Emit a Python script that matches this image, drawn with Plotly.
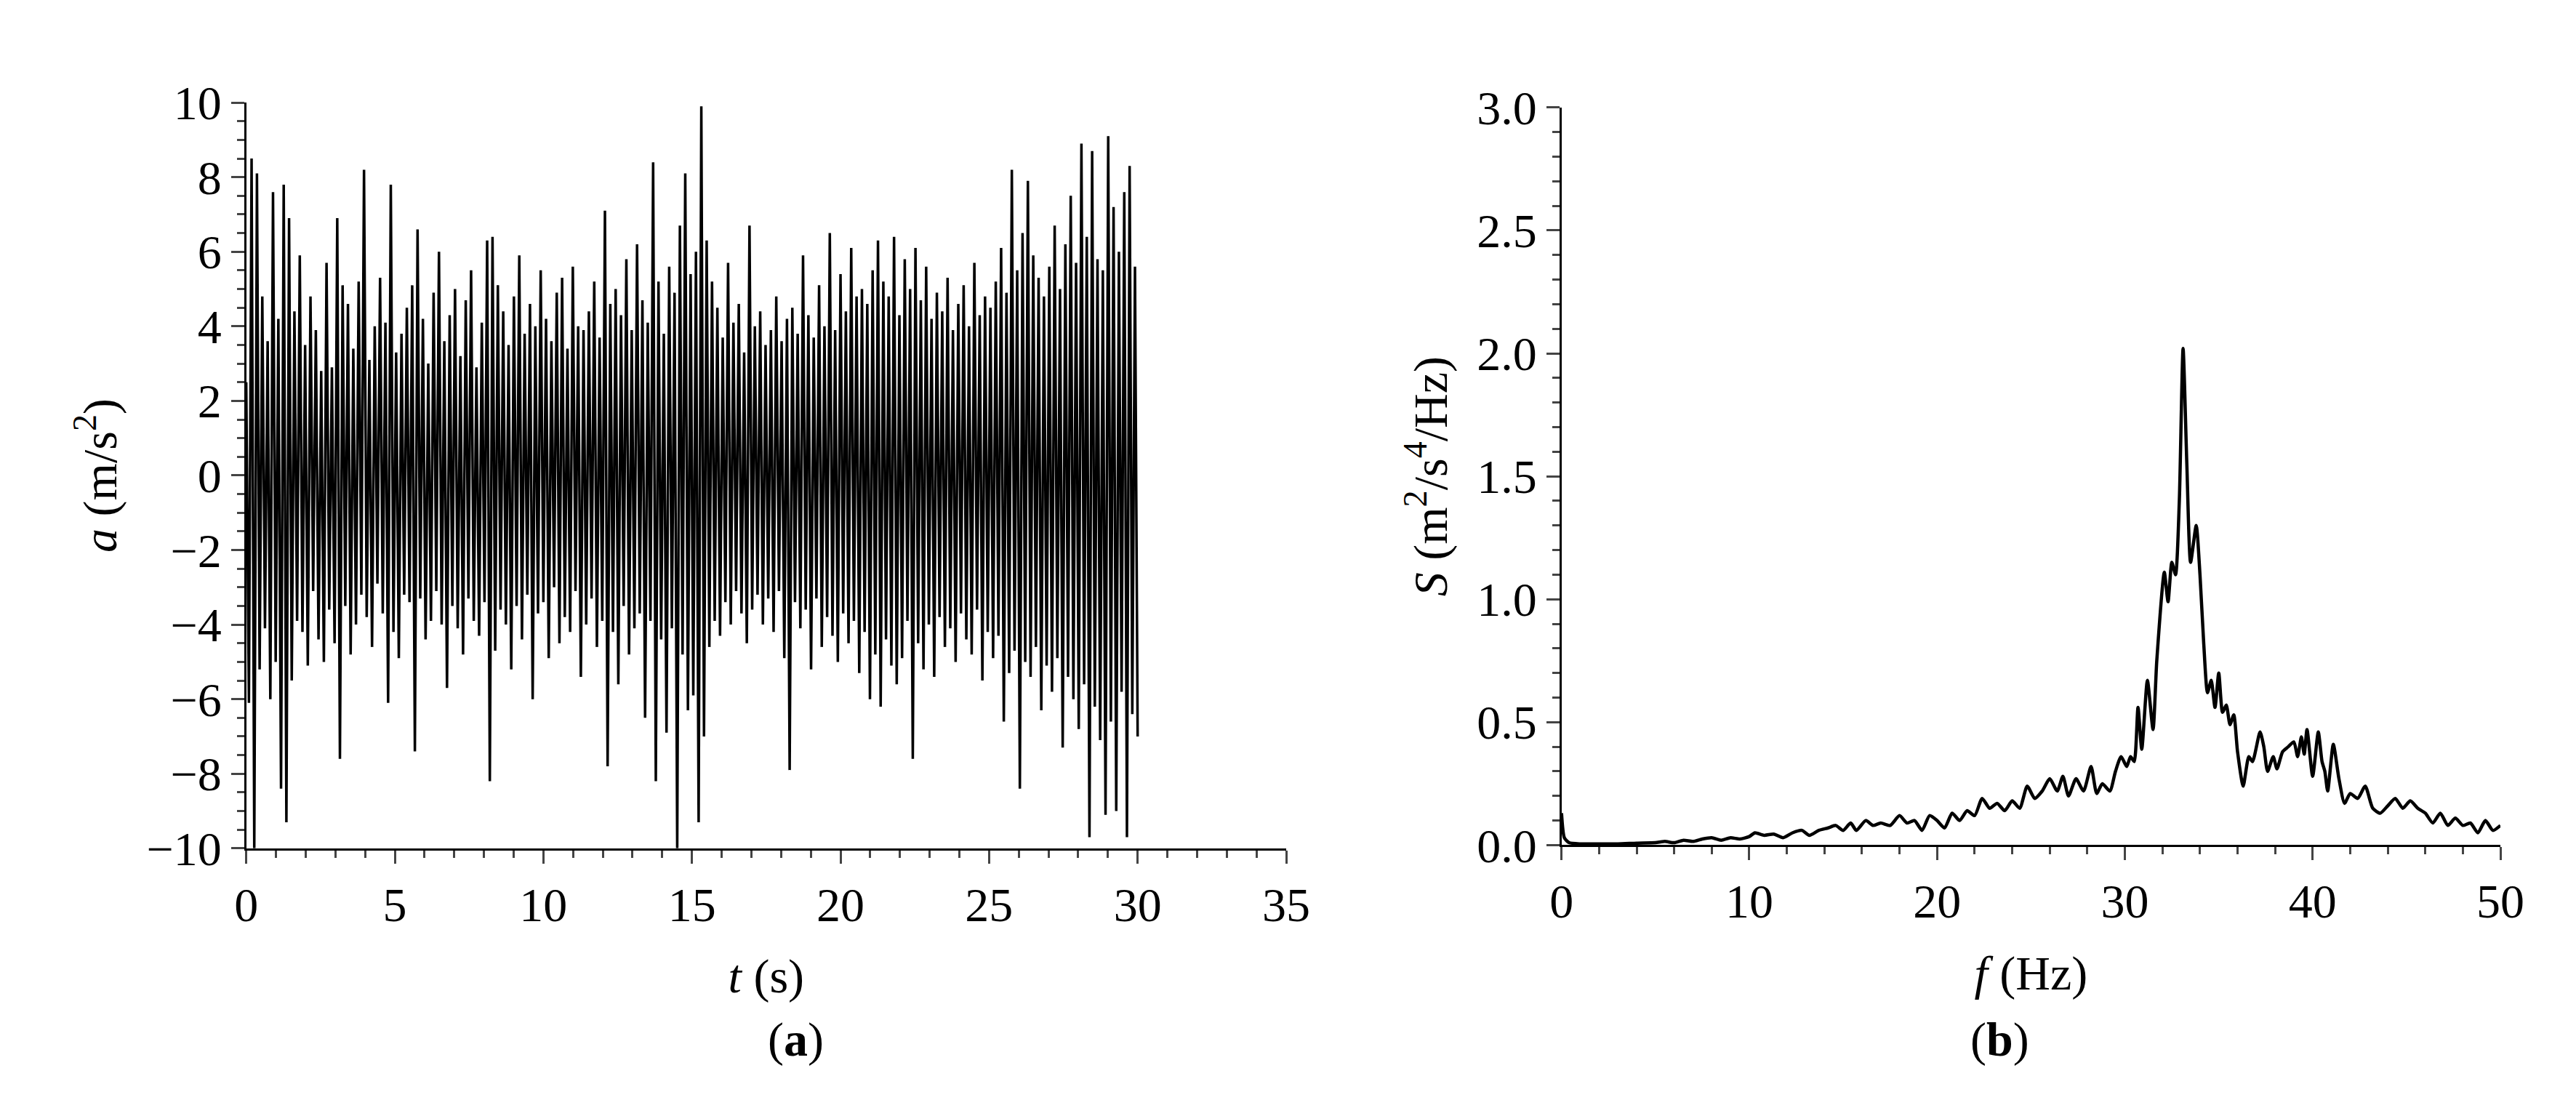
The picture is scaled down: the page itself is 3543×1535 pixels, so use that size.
import plotly.graph_objects as go

# (a) acceleration record over 30 s, values
duration = 30.0
accel = [
    2.5, -6.1, 8.5, -10.0, 8.1, -5.2, 4.8, -4.1, 3.6, -6.0, 7.6, -5.0, 4.2, -8.4, 7.8, -9.3, 6.9, -5.5, 4.4, -3.9,
    5.9, -4.2, 3.5, -5.1, 4.8, -3.1, 3.9, -4.4, 2.8, -5.0, 5.7, -3.6, 2.9, -4.5, 6.9, -7.6, 5.1, -3.5, 4.6, -4.8,
    3.4, -4.0, 5.2, -3.2, 8.2, -3.8, 3.1, -4.6, 4.0, -2.9, 5.3, -3.7, 4.1, -6.1, 7.8, -4.2, 3.3, -4.9, 3.8, -3.2,
    4.5, -3.4, 5.1, -7.4, 6.6, -3.3, 4.2, -4.4, 3.0, -3.9, 4.9, -3.1, 6.0, -4.0, 3.6, -5.7, 4.3, -3.5, 5.0, -4.1,
    3.2, -4.8, 4.7, -3.3, 5.5, -3.9, 2.9, -4.3, 4.1, -3.4, 6.3, -8.2, 6.4, -4.7, 5.1, -3.6, 4.4, -4.0, 3.5, -5.2,
    4.8, -3.5, 5.9, -4.4, 3.8, -3.2, 4.6, -6.0, 4.0, -3.7, 5.5, -3.4, 4.2, -4.9, 3.6, -3.0, 4.9, -4.5, 5.3, -3.8,
    3.4, -4.2, 5.6, -3.1, 4.0, -5.4, 3.9, -4.0, 4.4, -3.3, 5.2, -4.6, 3.7, -3.9, 7.1, -7.8, 4.6, -4.2, 5.0, -5.6,
    4.3, -3.5, 5.8, -4.8, 3.9, -4.1, 6.2, -3.7, 4.7, -6.5, 4.1, -3.9, 8.4, -8.2, 5.2, -4.4, 3.8, -6.9, 5.6, -4.1,
    4.9, -10.0, 6.7, -4.8, 8.1, -6.3, 5.4, -5.9, 6.0, -9.3, 9.9, -7.0, 6.3, -4.6, 5.2, -3.9, 4.5, -4.3, 3.7, -3.4,
    5.7, -4.0, 4.1, -3.1, 4.6, -3.7, 3.3, -4.5, 6.7, -3.6, 4.0, -3.2, 4.4, -4.0, 3.5, -3.3, 3.9, -4.2, 4.8, -3.1,
    3.6, -4.9, 4.2, -7.9, 4.5, -3.4, 3.8, -4.1, 5.9, -3.6, 4.3, -5.2, 3.7, -3.3, 5.1, -4.6, 4.0, -3.8, 6.5, -4.3,
    3.9, -5.0, 5.4, -3.7, 4.4, -4.5, 6.1, -3.9, 4.8, -5.3, 5.0, -4.2, 4.6, -6.0, 5.5, -4.8, 6.3, -6.2, 5.2, -4.4,
    4.8, -5.1, 6.4, -5.6, 4.3, -4.9, 5.8, -3.9, 5.0, -7.6, 6.1, -4.5, 4.7, -5.2, 5.6, -4.0, 4.2, -5.4, 4.9, -3.8,
    4.4, -4.6, 5.3, -4.1, 3.9, -5.0, 4.6, -3.7, 5.1, -4.4, 4.0, -4.8, 5.7, -3.6, 4.3, -5.5, 4.8, -4.2, 4.5, -4.9,
    5.2, -4.3, 6.1, -6.6, 4.9, -5.3, 8.2, -4.7, 5.5, -8.4, 6.5, -5.0, 7.9, -5.4, 5.9, -4.6, 5.3, -6.3, 4.8, -5.1,
    5.6, -5.8, 6.7, -4.9, 5.0, -7.3, 6.2, -5.4, 7.5, -6.0, 5.7, -6.8, 8.9, -5.6, 6.4, -9.7, 8.7, -6.2, 5.8, -7.1,
    5.5, -9.1, 9.1, -6.6, 7.2, -9.0, 6.0, -5.8, 7.6, -9.7, 8.3, -6.4, 5.6, -7.0,
]
time_s = [i * duration / (len(accel) - 1) for i in range(len(accel))]

# (b) power spectral density
freq = [0, 0.15, 0.4, 1, 2, 3, 4, 5, 5.5, 6, 6.5, 7, 7.5, 8, 8.5, 9, 9.5, 10, 10.3, 10.8,
        11.3, 11.8, 12.3, 12.8, 13.2, 13.7, 14.2, 14.6, 15, 15.4, 15.7, 16.2, 16.6, 17, 17.5, 18, 18.4, 18.8, 19.2, 19.6,
        20, 20.4, 20.8, 21.2, 21.6, 22, 22.4, 22.8, 23.2, 23.6, 24, 24.4, 24.8, 25.2, 25.6, 26, 26.4, 26.7, 27, 27.4,
        27.8, 28.2, 28.5, 28.8, 29.2, 29.5, 29.8, 30.1, 30.3, 30.5, 30.7, 30.9, 31.2, 31.5, 31.7, 32.1, 32.3, 32.5, 32.7, 32.9,
        33.1, 33.3, 33.5, 33.8, 34.0, 34.2, 34.4, 34.6, 34.8, 35.0, 35.2, 35.4, 35.6, 35.8, 36.0, 36.3, 36.6, 36.8, 37.2, 37.4,
        37.6, 37.9, 38.1, 38.4, 38.7, 39.0, 39.2, 39.4, 39.55, 39.7, 40.0, 40.3, 40.5, 40.65, 40.8, 41.1, 41.4, 41.7, 42.0, 42.4,
        42.8, 43.2, 43.6, 44.0, 44.4, 44.8, 45.2, 45.6, 46.0, 46.4, 46.8, 47.2, 47.6, 48.0, 48.4, 48.8, 49.2, 49.6, 50]
psd = [0.13, 0.03, 0.01, 0.005, 0.005, 0.005, 0.008, 0.01, 0.015, 0.01, 0.02, 0.015, 0.025, 0.03, 0.02, 0.03, 0.025, 0.035, 0.05, 0.04,
       0.045, 0.03, 0.05, 0.06, 0.04, 0.06, 0.07, 0.08, 0.06, 0.09, 0.06, 0.1, 0.08, 0.09, 0.08, 0.12, 0.09, 0.1, 0.06, 0.12,
       0.1, 0.07, 0.13, 0.1, 0.14, 0.12, 0.19, 0.15, 0.17, 0.14, 0.18, 0.15, 0.24, 0.19, 0.22, 0.27, 0.22, 0.28, 0.2, 0.27,
       0.22, 0.32, 0.21, 0.25, 0.22, 0.3, 0.36, 0.32, 0.36, 0.34, 0.56, 0.39, 0.67, 0.47, 0.75, 1.11, 0.99, 1.15, 1.1, 1.4,
       2.02, 1.55, 1.15, 1.3, 1.1, 0.82, 0.62, 0.67, 0.56, 0.7, 0.54, 0.57, 0.49, 0.53, 0.38, 0.24, 0.36, 0.34, 0.46, 0.4,
       0.3, 0.36, 0.31, 0.38, 0.4, 0.42, 0.36, 0.44, 0.37, 0.47, 0.28, 0.46, 0.34, 0.3, 0.22, 0.41, 0.27, 0.17, 0.21, 0.19,
       0.24, 0.15, 0.13, 0.16, 0.19, 0.15, 0.18, 0.15, 0.13, 0.09, 0.13, 0.08, 0.11, 0.08, 0.09, 0.05, 0.1, 0.06, 0.08]

font = dict(family="Liberation Serif", size=66, color="black")

fig = go.Figure()
fig.add_trace(go.Scatter(x=time_s, y=accel, mode="lines", line=dict(color="black", width=3.5),
                         xaxis="x", yaxis="y", showlegend=False))
fig.add_trace(go.Scatter(x=freq, y=psd, mode="lines", line=dict(color="black", width=4.5, shape="spline", smoothing=0.6),
                         xaxis="x2", yaxis="y2", showlegend=False))

axis_common = dict(showline=True, linecolor="black", linewidth=2.5, ticks="outside", ticklen=18, tickwidth=2.5,
                   showgrid=False, zeroline=False, tickfont=font, mirror=False,
                   minor=dict(ticks="outside", ticklen=10, tickwidth=2.5, showgrid=False))

fig.update_layout(
    width=3543, height=1535, margin=dict(l=0, r=0, t=0, b=0),
    paper_bgcolor="white", plot_bgcolor="white", font=font,
    xaxis=dict(domain=[0.0898, 0.4993], range=[0, 35], dtick=5, anchor="y",
               title=dict(text="<i>t</i> (s)", font=font, standoff=40), **axis_common),
    yaxis=dict(domain=[0.232, 0.9336], range=[-10, 10], dtick=2, anchor="x",
               title=dict(text="<i>a</i> (m/s<sup>2</sup>)", font=font, standoff=20), **axis_common),
    xaxis2=dict(domain=[0.6077, 0.9774], range=[0, 50], dtick=10, anchor="y2",
                title=dict(text="<i>f</i> (Hz)", font=font, standoff=40), **axis_common),
    yaxis2=dict(domain=[0.235, 0.929], range=[0, 3.0], dtick=0.5, tickformat=".1f", anchor="x2",
                title=dict(text="<i>S</i> (m<sup>2</sup>/s<sup>4</sup>/Hz)", font=font, standoff=20), **axis_common),
    annotations=[
        dict(text="(<b>a</b>)", x=0.2946, y=0.052, xref="paper", yref="paper", yanchor="middle",
             showarrow=False, font=font),
        dict(text="(<b>b</b>)", x=0.7925, y=0.052, xref="paper", yref="paper", yanchor="middle",
             showarrow=False, font=font),
    ],
)

fig.write_html("out.html")
